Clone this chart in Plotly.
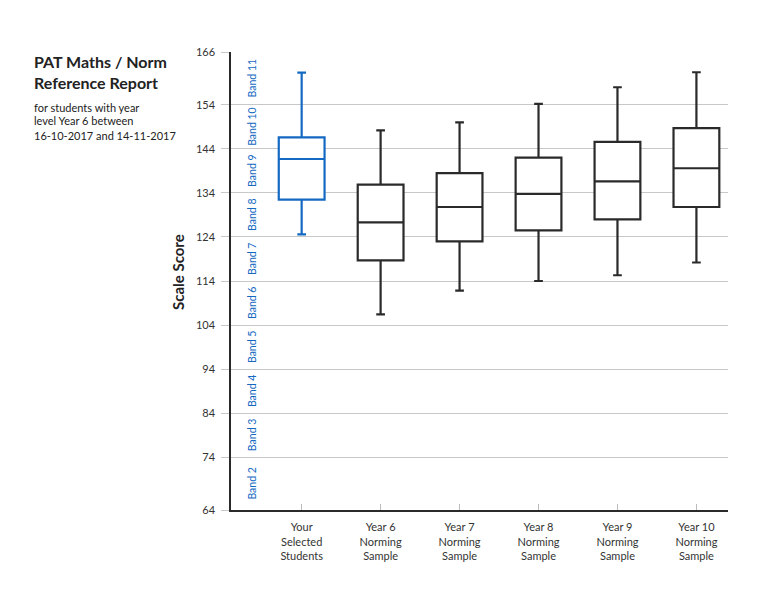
import plotly.graph_objects as go

# ---- data ----
categories = ["Your<br>Selected<br>Students", "Year 6<br>Norming<br>Sample",
              "Year 7<br>Norming<br>Sample", "Year 8<br>Norming<br>Sample",
              "Year 9<br>Norming<br>Sample", "Year 10<br>Norming<br>Sample"]
lower = [124.6, 106.4, 111.8, 114.0, 115.3, 118.2]
q1 = [132.5, 118.7, 123.0, 125.5, 128.0, 130.8]
median = [141.7, 127.3, 130.8, 133.8, 136.6, 139.6]
q3 = [146.6, 135.9, 138.5, 142.0, 145.6, 148.7]
upper = [161.3, 148.2, 150.0, 154.2, 158.0, 161.4]

tick_vals = [62, 74, 84, 94, 104, 114, 124, 134, 144, 154, 166]
tick_text = ["64", "74", "84", "94", "104", "114", "124", "134", "144", "154", "166"]
band_names = ["Band 2", "Band 3", "Band 4", "Band 5", "Band 6", "Band 7",
              "Band 8", "Band 9", "Band 10", "Band 11"]

BLUE = "#1469c2"
DARK = "#2a2a2a"
FONT = "Lato, 'Open Sans', sans-serif"

# page body has an 8px margin, so the figure is offset by that amount
OFF = 8
W, H = 770 - 2 * OFF, 598 - 2 * OFF
PL, PR, PT, PB = 231, 728, 52, 510   # target plot box in window pixels
L, R, T, B = PL - OFF, (OFF + W) - PR, PT - OFF, (OFF + H) - PB
pw, ph = W - L - R, H - T - B

fig = go.Figure()

def add_box(idx, color):
    fig.add_trace(go.Box(
        x=[categories[i] for i in idx],
        q1=[q1[i] for i in idx], median=[median[i] for i in idx],
        q3=[q3[i] for i in idx], lowerfence=[lower[i] for i in idx],
        upperfence=[upper[i] for i in idx],
        line=dict(color=color, width=2.2), fillcolor="white",
        width=0.58, whiskerwidth=0.19, boxpoints=False,
        hoverinfo="skip", showlegend=False))

add_box([0], BLUE)
add_box([1, 2, 3, 4, 5], DARK)

# band labels between grid lines
for i, name in enumerate(band_names):
    lo, hi = tick_vals[i], tick_vals[i + 1]
    fig.add_annotation(x=0, xref="paper", xshift=21, y=(lo + hi) / 2, yref="y",
                       text=name, textangle=-90, showarrow=False,
                       font=dict(family=FONT, size=10.5, color=BLUE),
                       xanchor="center", yanchor="middle")

def add_text(xp, yp, text, size, bold=False, color="#222", xanchor="left", angle=0):
    x = (xp - PL) / pw
    y = (PB - yp) / ph
    fig.add_annotation(x=x, y=y, xref="paper", yref="paper",
                       text=f"<b>{text}</b>" if bold else text,
                       showarrow=False, textangle=angle,
                       font=dict(family=FONT, size=size, color=color),
                       xanchor=xanchor, yanchor="middle", align="left")

add_text(32, 61, "PAT Maths / Norm", 16, bold=True)
add_text(32, 82, "Reference Report", 16, bold=True)
add_text(32, 107, "for students with year", 11)
add_text(32, 121, "level Year 6 between", 11)
add_text(32, 135, "16-10-2017 and 14-11-2017", 11)
add_text(178, 272, "Scale Score", 15, bold=True, xanchor="center", angle=-90)

fig.update_layout(
    width=W, height=H,
    margin=dict(l=L, r=R, t=T, b=B),
    paper_bgcolor="white", plot_bgcolor="white",
    boxmode="overlay",
    font=dict(family=FONT, size=11, color="#333"),
    xaxis=dict(
        categoryorder="array", categoryarray=categories,
        range=[-0.895, 5.40], showgrid=False, zeroline=False,
        showline=True, linecolor=DARK, linewidth=2,
        ticks="inside", ticklen=6, tickcolor="#bbbbbb", tickwidth=1,
        ticklabelstandoff=6,
        tickfont=dict(family=FONT, size=11, color="#333"),
        fixedrange=True),
    yaxis=dict(
        range=[62, 166], tickvals=tick_vals, ticktext=tick_text,
        showgrid=True, gridcolor="#c8c8c8", gridwidth=1, zeroline=False,
        showline=True, linecolor=DARK, linewidth=1.5,
        ticks="outside", ticklen=8, tickcolor="#c8c8c8", tickwidth=1,
        ticklabelstandoff=4,
        tickfont=dict(family=FONT, size=11, color="#333"),
        fixedrange=True),
)

fig.write_html("out.html", config={"displayModeBar": False})
